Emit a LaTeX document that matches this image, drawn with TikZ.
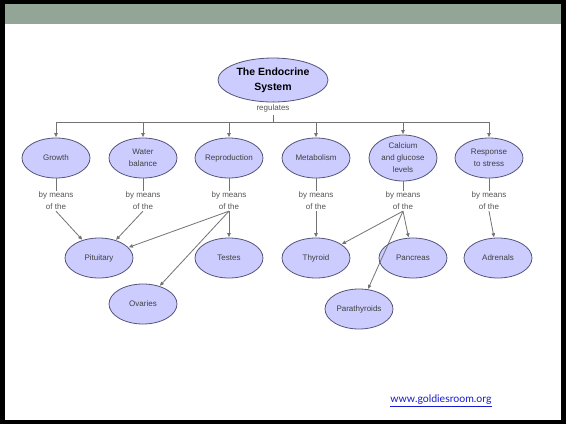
\documentclass[tikz,border=0pt]{standalone}
\usepackage{fontspec}
\setmainfont{Liberation Sans}
\newfontfamily\urlfont{Lato}
\usetikzlibrary{shapes.geometric,arrows.meta}

\definecolor{lav}{HTML}{CCCCFF}
\definecolor{rim}{HTML}{55557A}
\definecolor{barcol}{HTML}{93A597}
\definecolor{wordgray}{HTML}{555555}
\definecolor{urlblue}{HTML}{1A1AD0}

\tikzset{
  blob/.style={ellipse,draw=rim,fill=lav,line width=0.8pt,minimum width=68pt,minimum height=40pt,
    inner sep=0pt,align=center,font=\fontsize{8}{12}\selectfont,text=black!75},
  means/.style={align=center,font=\fontsize{8}{12}\selectfont,text=wordgray,inner sep=1pt},
  link/.style={draw=black!55,line width=0.8pt},
  linkarr/.style={link,-{Triangle[length=4pt,width=3.5pt]},shorten >=0.5pt},
}

\begin{document}
\begin{tikzpicture}[x=1pt,y=-1pt]
    \useasboundingbox (0,0) rectangle (566,424);
    \fill[black] (0,0) rectangle (566,424);% slide frame
    \fill[white] (5,4) rectangle (561,420);
    \fill[barcol] (5,4) rectangle (561,24);% title bar

    \node[blob,minimum width=110pt,minimum height=44pt,text=black,
          font=\bfseries\fontsize{10.5}{15}\selectfont] (endo) at (273,80) {The Endocrine\\System};
    \node[means,inner sep=3pt] (reg) at (273,108) {regulates};
    \coordinate (junc) at (273,122);
    \draw[link] (endo) -- (reg);
    \draw[link] (reg) -- (junc);

    \foreach \name/\x/\h/\txt in {growth/56/40/Growth, water/143/40/{Water\\balance},
        reproduction/229/40/Reproduction, metabolism/316/40/Metabolism,
        calcium/403/46/{Calcium\\and glucose\\levels}, response/489/40/{Response\\to stress}}{% one column per function
        \coordinate (\name-top) at (\x,122);
        \node[blob,minimum height=\h pt] (\name) at (\x,158) {\txt};
        \node[means] (\name-by) at (\x,201) {by means\\of the};
        \draw[linkarr] (\name-top) -- (\name);
        \draw[link] (\name) -- (\name-by);
    }
    \draw[link] (growth-top) -- (response-top);% regulates bar

    \foreach \name/\x/\y/\txt in {pituitary/99/258/Pituitary, testes/229/258/Testes,
        thyroid/316/258/Thyroid, pancreas/413/258/Pancreas, adrenals/498/258/Adrenals,
        ovaries/143/304/Ovaries, parathy/359/309/Parathyroids}{% glands
        \node[blob] (\name) at (\x,\y) {\txt};
    }

    \foreach \from/\to in {growth/pituitary, water/pituitary, reproduction/pituitary,
        reproduction/testes, reproduction/ovaries, metabolism/thyroid, calcium/thyroid,
        calcium/pancreas, calcium/parathy, response/adrenals}{% by means of the
        \draw[linkarr] (\from-by.south) -- (\to);
    }

    \node[text=urlblue,font=\urlfont\fontsize{10.5}{12}\selectfont] (url) at (441,401) {\underline{www.goldiesroom.org}};
\end{tikzpicture}
\end{document}
